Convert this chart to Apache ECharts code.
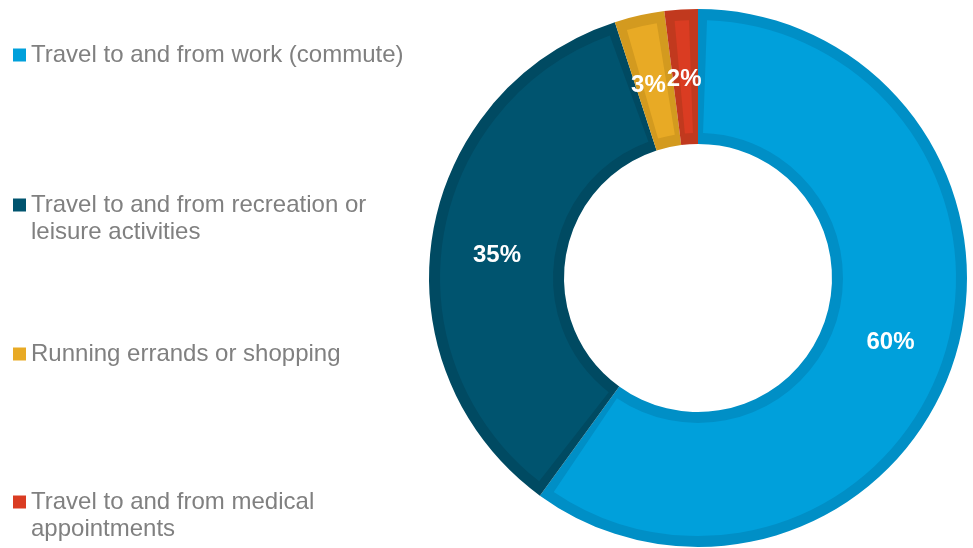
<!DOCTYPE html>
<html>
<head>
<meta charset="utf-8">
<script src="https://cdn.jsdelivr.net/npm/echarts@6/dist/echarts.min.js"></script>
<style>
  html, body { margin: 0; padding: 0; background: #ffffff; }
  #chart { width: 973px; height: 548px; }
</style>
</head>
<body>
<div id="chart"></div>
<script>
// Trip purposes and their share of trips (%)
const categories = [
  'Travel to and from work (commute)',
  'Travel to and from recreation or leisure activities',
  'Running errands or shopping',
  'Travel to and from medical appointments'
];
const shares = [60, 35, 3, 2];

// Legend text, wrapped the way it is laid out
const legendLines = [
  ['Travel to and from work (commute)'],
  ['Travel to and from recreation or', 'leisure activities'],
  ['Running errands or shopping'],
  ['Travel to and from medical', 'appointments']
];

const fillColors = ['#00A0DB', '#00546F', '#E8AA25', '#DA3C22'];
const edgeColors = ['#008FC6', '#004A62', '#D39A1F', '#C1391E'];
const legendTops = [43, 193, 342, 490];
const labelShift = [[-2, 1], [1, 9], [-5, 7], [-1, 5]];

const FONT = '"Liberation Sans", Arial, Helvetica, sans-serif';
const CENTER = [698, 278];

const rich = {
  t: { fontSize: 24, lineHeight: 27, color: '#808080', fontFamily: FONT },
  g: { width: 5, height: 13 },
  s: { width: 18, height: 13 }
};
fillColors.forEach((c, i) => {
  rich['m' + i] = { width: 13, height: 13, backgroundColor: c };
});

const chart = echarts.init(document.getElementById('chart'), null, { renderer: 'canvas' });

chart.setOption({
  animation: false,
  backgroundColor: '#ffffff',
  legend: categories.map((name, i) => ({
    data: [name],
    orient: 'vertical',
    left: 8,
    top: legendTops[i],
    padding: 0,
    icon: 'none',
    itemWidth: 0,
    itemHeight: 0,
    selectedMode: false,
    textStyle: { rich: rich },
    formatter: function () {
      const lines = legendLines[i];
      return lines.map((ln, k) =>
        (k === 0 ? '{m' + i + '|}{g|}' : '{s|}') + '{t|' + ln + '}'
      ).join('\n');
    }
  })),
  series: [
    {
      // darker outline layer
      name: 'edge',
      type: 'pie',
      center: CENTER,
      radius: [134, 269],
      startAngle: 90,
      clockwise: true,
      silent: true,
      label: { show: false },
      labelLine: { show: false },
      data: categories.map((name, i) => ({
        name: name,
        value: shares[i],
        itemStyle: { color: edgeColors[i] }
      }))
    },
    {
      // lighter inner fill with value labels
      name: 'Trip purpose',
      type: 'pie',
      z: 3,
      center: CENTER,
      radius: [145, 258],
      startAngle: 90,
      clockwise: true,
      padAngle: 4,
      silent: true,
      avoidLabelOverlap: false,
      labelLayout: { hideOverlap: false },
      label: {
        show: true,
        position: 'inside',
        formatter: '{c}%',
        color: '#ffffff',
        fontSize: 24,
        fontWeight: 'bold',
        fontFamily: FONT
      },
      labelLine: { show: false },
      data: categories.map((name, i) => ({
        name: name,
        value: shares[i],
        itemStyle: { color: fillColors[i] },
        label: { offset: labelShift[i] }
      }))
    }
  ]
});
</script>
</body>
</html>
